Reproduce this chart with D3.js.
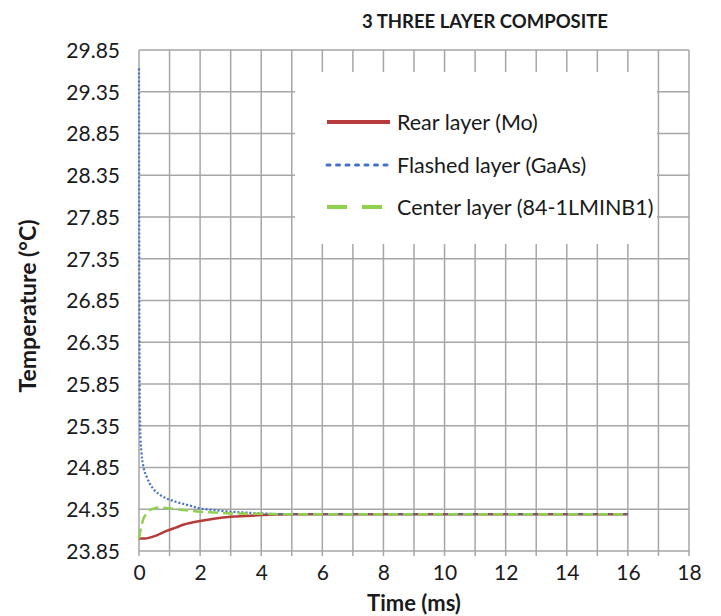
<!DOCTYPE html>
<html>
<head>
<meta charset="utf-8">
<title>3 three layer composite</title>
<script src="https://cdn.jsdelivr.net/npm/d3@7/dist/d3.min.js"></script>
<style>
  body { margin: 0; background: #fff; }
  text { font-family: Lato, "Open Sans", sans-serif; fill: #1a1a1a; }
</style>
</head>
<body>
<div id="chart"></div>
<script>
// values
var title = "3 THREE LAYER COMPOSITE";
var yTicks = [23.85, 24.35, 24.85, 25.35, 25.85, 26.35, 26.85, 27.35, 27.85, 28.35, 28.85, 29.35, 29.85];
var xTicks = [0, 2, 4, 6, 8, 10, 12, 14, 16, 18];

var rearT   = [0, 0.2, 0.35, 0.6, 0.9, 1.2, 1.5, 2, 2.5, 3, 3.5, 4, 5, 6, 16];
var rearV   = [24.0, 24.0, 24.01, 24.04, 24.09, 24.13, 24.17, 24.21, 24.24, 24.26, 24.27, 24.28, 24.29, 24.29, 24.29];

var flashT  = [0, 0.005, 0.01, 0.02, 0.03, 0.05, 0.08, 0.15, 0.25, 0.35, 0.5, 0.7, 0.9, 1.2, 1.6, 2, 2.5, 3, 3.5, 4, 5, 16];
var flashV  = [29.63, 28.0, 27.0, 26.0, 25.5, 25.2, 25.03, 24.85, 24.74, 24.66, 24.58, 24.52, 24.48, 24.44, 24.4, 24.36, 24.34, 24.32, 24.31, 24.3, 24.29, 24.29];

var centerT = [0, 0.05, 0.13, 0.25, 0.35, 0.5, 0.65, 0.9, 1.2, 1.6, 2, 2.5, 3, 4, 5, 16];
var centerV = [24.0, 24.1, 24.22, 24.3, 24.34, 24.36, 24.37, 24.365, 24.35, 24.335, 24.32, 24.31, 24.3, 24.295, 24.29, 24.29];

var seriesNames = ["Rear layer (Mo)", "Flashed layer (GaAs)", "Center layer (84-1LMINB1)"];

var W = 721, H = 616;
var pL = 139, pR = 689, pT = 50, pB = 551;

var svg = d3.select('#chart').append('svg')
  .attr('width', W).attr('height', H);

var x = d3.scaleLinear().domain([0, 18]).range([pL, pR]);
var y = d3.scaleLinear().domain([23.85, 29.85]).range([pB, pT]);

var gridColor = '#a6a6a6';

// grid
svg.append('g').selectAll('line').data(d3.range(0, 19)).enter().append('line')
  .attr('x1', d => x(d)).attr('x2', d => x(d))
  .attr('y1', pT).attr('y2', pB)
  .attr('stroke', gridColor).attr('stroke-width', 1.5);
svg.append('g').selectAll('line').data(yTicks).enter().append('line')
  .attr('x1', pL).attr('x2', pR)
  .attr('y1', d => y(d)).attr('y2', d => y(d))
  .attr('stroke', gridColor).attr('stroke-width', 1.5);

// small ticks under the x axis
svg.append('g').selectAll('line').data(d3.range(0, 19)).enter().append('line')
  .attr('x1', d => x(d)).attr('x2', d => x(d))
  .attr('y1', pB).attr('y2', pB + 5)
  .attr('stroke', gridColor).attr('stroke-width', 1.5);

// axes labels
var yAxis = svg.append('g').attr('transform', 'translate(' + (pL - 19) + ',0)')
  .call(d3.axisLeft(y).tickValues(yTicks).tickFormat(d3.format('.2f')).tickSize(0));
yAxis.select('.domain').remove();
yAxis.selectAll('text').style('font-size', '21px').style('font-family', 'Lato, sans-serif')
  .style('fill', '#1a1a1a').attr('dy', '0.35em').attr('x', 0);

var xAxis = svg.append('g').attr('transform', 'translate(0,' + (pB + 8) + ')')
  .call(d3.axisBottom(x).tickValues(xTicks).tickFormat(d3.format('d')).tickSize(0));
xAxis.select('.domain').remove();
xAxis.selectAll('text').style('font-size', '21px').style('font-family', 'Lato, sans-serif')
  .style('fill', '#1a1a1a').attr('dy', '0.71em').attr('y', 6);

svg.append('text').attr('x', (pL + pR) / 2).attr('y', 611)
  .attr('text-anchor', 'middle').style('font-size', '22px').style('font-weight', 'bold')
  .text('Time (ms)');

svg.append('text').attr('transform', 'translate(36,' + 306 + ') rotate(-90)')
  .attr('text-anchor', 'middle').style('font-size', '23px').style('font-weight', 'bold')
  .text('Temperature (°C)');

svg.append('text').attr('x', 485).attr('y', 28)
  .attr('text-anchor', 'middle').style('font-size', '18.5px').style('font-weight', 'bold')
  .text(title);

// series
var line = d3.line().x(d => x(d[0])).y(d => y(d[1])).curve(d3.curveMonotoneX);

var series = [
  { name: seriesNames[0], data: d3.zip(rearT, rearV), color: '#b83b3b', width: 2.5, dash: null },
  { name: seriesNames[1], data: d3.zip(flashT, flashV), color: '#4472c4', width: 2.2, dash: '2,2' },
  { name: seriesNames[2], data: d3.zip(centerT, centerV), color: '#8fd14f', width: 2.5, dash: '10,5' }
];

series.forEach(function(s) {
  svg.append('path').datum(s.data)
    .attr('d', line)
    .attr('fill', 'none')
    .attr('stroke', s.color)
    .attr('stroke-width', s.width)
    .attr('stroke-dasharray', s.dash);
});

// legend
svg.append('rect').attr('x', 295).attr('y', 72).attr('width', 362).attr('height', 172).attr('fill', '#fff');
var legY = [122, 165, 207];
var legDash = [null, '3,6.5', '20,15'];
series.forEach(function(s, i) {
  svg.append('line').attr('x1', 327).attr('x2', 390)
    .attr('y1', legY[i]).attr('y2', legY[i])
    .attr('stroke', s.color).attr('stroke-width', i == 1 ? 3 : 4)
    .attr('stroke-linecap', i == 1 ? 'round' : 'butt')
    .attr('stroke-dasharray', legDash[i]);
  svg.append('text').attr('x', 397).attr('y', legY[i]).attr('dy', '0.35em')
    .style('font-size', '21.5px').text(s.name);
});
</script>
</body>
</html>
